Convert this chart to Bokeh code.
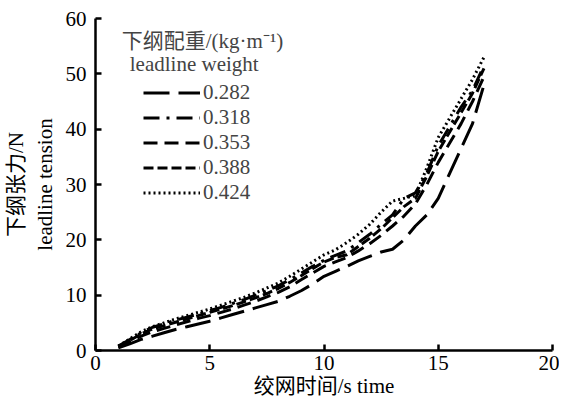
from bokeh.plotting import figure
from bokeh.models import Legend, LegendItem, Label, FixedTicker
from bokeh.embed import file_html
from bokeh.resources import INLINE

time_s = [1, 1.5, 2, 2.5, 3, 3.5, 4, 4.5, 5, 5.5, 6, 6.5, 7, 7.5, 8, 8.5, 9, 9.5,
          10, 10.5, 11, 11.5, 12, 12.5, 13, 13.5, 14, 14.5, 15, 15.5, 16, 16.5, 17]

w0282 = [0.5, 1.2, 2.0, 2.6, 3.2, 3.8, 4.3, 4.8, 5.3, 5.9, 6.5, 7.1, 7.7, 8.3, 8.9, 9.8, 10.8, 12.0,
         13.4, 14.3, 15.2, 16.2, 17.0, 17.8, 18.3, 20.0, 22.5, 24.5, 27.5, 32.0, 36.5, 41.0, 48.0]
w0318 = [0.8, 2.0, 3.2, 4.2, 4.8, 5.5, 6.0, 6.6, 7.2, 7.8, 8.5, 9.2, 10.0, 10.8, 11.7, 12.8, 14.0, 15.2,
         16.3, 17.2, 18.0, 19.5, 21.0, 22.8, 24.5, 27.5, 28.5, 32.0, 37.0, 40.5, 44.0, 47.0, 51.5]
w0353 = [0.6, 1.5, 2.6, 3.4, 4.0, 4.6, 5.2, 5.8, 6.3, 6.9, 7.5, 8.2, 8.9, 9.7, 10.5, 11.5, 12.8, 14.0,
         15.2, 16.0, 16.8, 18.0, 19.3, 20.8, 22.5, 24.3, 26.5, 30.0, 34.0, 37.5, 41.0, 45.0, 49.5]
w0388 = [0.7, 1.8, 3.0, 3.9, 4.5, 5.1, 5.7, 6.3, 6.9, 7.5, 8.1, 8.8, 9.5, 10.3, 11.2, 12.3, 13.5, 14.8,
         16.0, 16.8, 17.3, 18.8, 20.3, 22.0, 24.0, 26.0, 27.5, 31.5, 36.0, 39.5, 43.0, 46.5, 51.0]
w0424 = [0.8, 2.1, 3.4, 4.3, 5.0, 5.7, 6.3, 6.9, 7.5, 8.2, 8.9, 9.6, 10.4, 11.3, 12.2, 13.4, 14.7, 16.0,
         17.3, 18.2, 19.5, 21.0, 22.8, 25.0, 27.0, 27.5, 28.0, 33.0, 38.5, 42.0, 45.5, 49.0, 53.0]

series_labels = ["0.282", "0.318", "0.353", "0.388", "0.424"]
series_values = [w0282, w0318, w0353, w0388, w0424]
dashes = ["26 9", "16 7 3 7", "14 7", "10 4", "2 3"]

x_ticks = [0, 5, 10, 15, 20]
y_ticks = [0, 10, 20, 30, 40, 50, 60]

FONT = "'Liberation Serif', 'Noto Sans CJK SC'"
FS = "21px"

p = figure(width=559, height=400, x_range=(0, 20), y_range=(0, 60),
           output_backend="svg", toolbar_location=None,
           min_border_left=95, min_border_right=7, min_border_top=18, min_border_bottom=50)
p.grid.visible = False
p.outline_line_color = None

for ax in (p.xaxis[0], p.yaxis[0]):
    ax.axis_line_width = 2.5
    ax.axis_line_color = "black"
    ax.major_tick_in = 6
    ax.major_tick_out = 0
    ax.major_tick_line_width = 2.5
    ax.minor_tick_line_color = None
    ax.major_label_text_font = FONT
    ax.major_label_text_font_size = FS
    ax.major_label_text_color = "black"
    ax.axis_label_text_font = FONT
    ax.axis_label_text_font_size = FS
    ax.axis_label_text_font_style = "normal"
    ax.axis_label_text_color = "black"

p.xaxis.ticker = FixedTicker(ticks=x_ticks)
p.yaxis.ticker = FixedTicker(ticks=y_ticks)
p.xaxis.axis_label = "绞网时间/s time"
p.yaxis.axis_label = "下纲张力/N\nleadline tension"
p.xaxis.major_label_standoff = 5
p.yaxis.major_label_standoff = 9
p.xaxis.axis_label_standoff = 1
p.yaxis.axis_label_standoff = 6

items = []
for lab, vals, d in zip(series_labels, series_values, dashes):
    r = p.line(time_s, vals, line_color="black", line_width=3, line_dash=d)
    items.append(LegendItem(label=lab, renderers=[r]))

legend = Legend(items=items, location=(48, 145), border_line_color=None,
                background_fill_alpha=0, padding=0, margin=0, spacing=0,
                glyph_width=57, glyph_height=25, label_height=25, label_standoff=3,
                label_text_font=FONT, label_text_font_size=FS,
                label_text_baseline="middle")
p.add_layout(legend, "center")

p.add_layout(Label(x=1.15, y=56.0, text="下纲配重/(kg·m⁻¹)", text_font=FONT,
                   text_font_size=FS, text_baseline="middle"))
p.add_layout(Label(x=1.5, y=51.8, text="leadline weight", text_font=FONT,
                   text_font_size=FS, text_baseline="middle"))

open("out.html", "w").write(file_html(p, INLINE))
